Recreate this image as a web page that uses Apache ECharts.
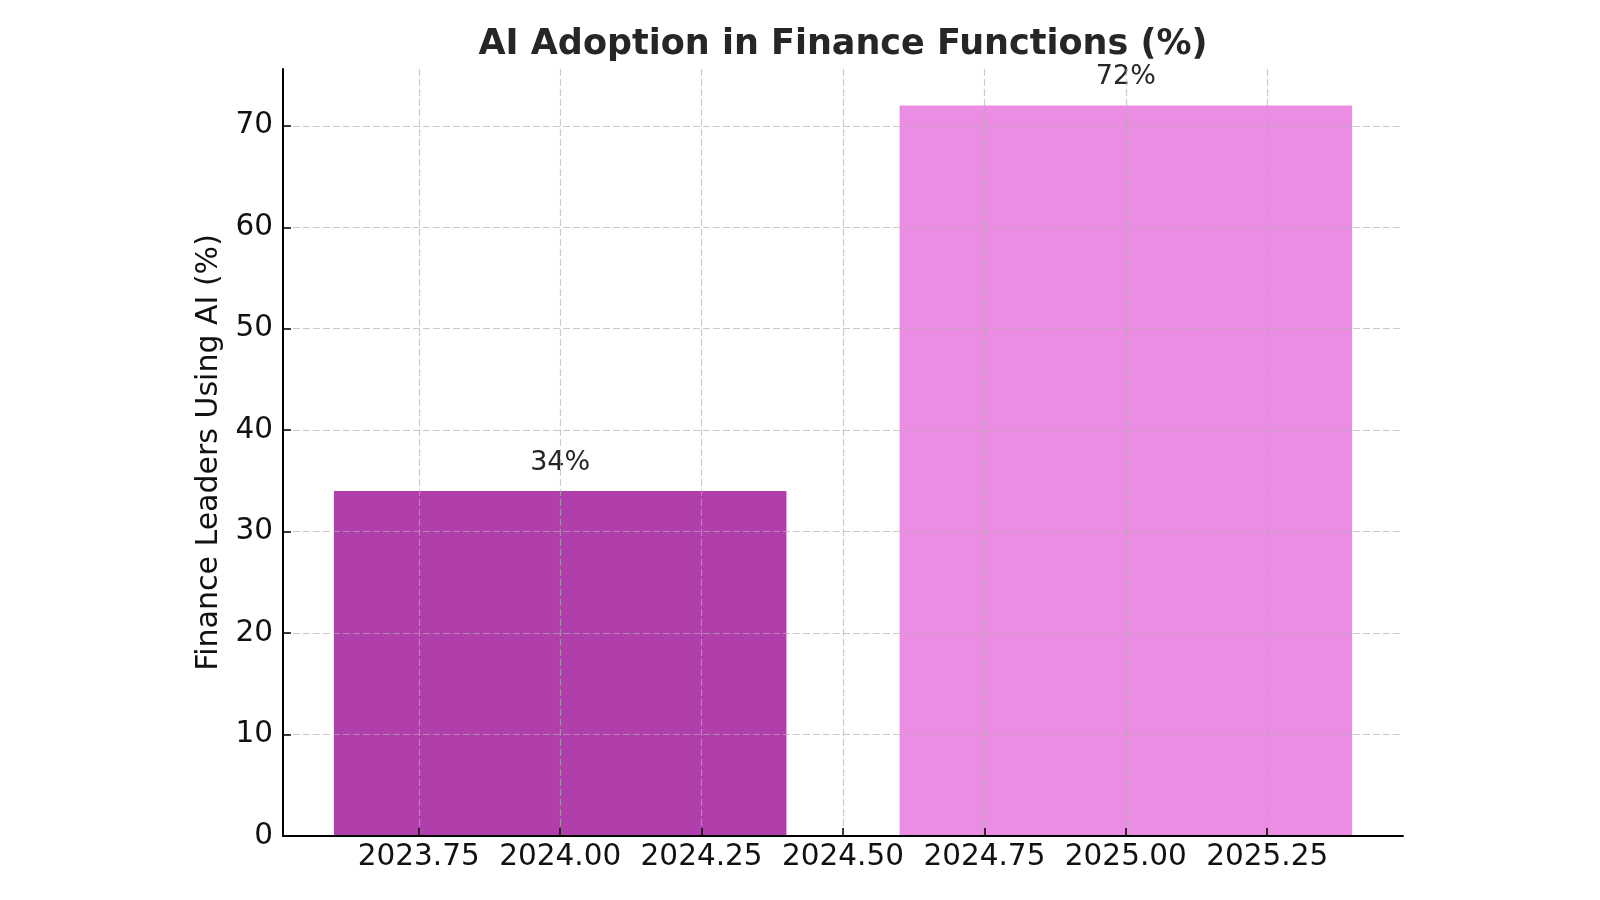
<!DOCTYPE html>
<html>
<head>
<meta charset="utf-8">
<title>AI Adoption in Finance Functions</title>
<script src="https://cdn.jsdelivr.net/npm/echarts@6/dist/echarts.min.js"></script>
<style>
  html, body { margin: 0; padding: 0; background: #fff; }
  #chart { width: 1600px; height: 900px; }
</style>
</head>
<body>
<div id="chart"></div>
<script>
// data
const years = [2024, 2025];
const adoption = [34, 72];
const barColors = ['#b03fac', '#ea8de3'];
const xTicks = [2023.75, 2024.0, 2024.25, 2024.5, 2024.75, 2025.0, 2025.25];
const yTicks = [0, 10, 20, 30, 40, 50, 60, 70];

const BAR_W = 0.8; // bar width in x units (matplotlib default)
const FONT = 'DejaVu Sans';

const chart = echarts.init(document.getElementById('chart'));

const gridLine = { show: true, lineStyle: { color: 'rgba(175,175,175,0.65)', type: [7, 3], width: 1.2 } };

chart.setOption({
  animation: false,
  title: {
    text: 'AI Adoption in Finance Functions (%)',
    left: 838, top: 22, textAlign: 'center',
    textStyle: { fontFamily: FONT, fontSize: 35, fontWeight: 'bold', color: '#262626' }
  },
  grid: { left: 283, right: 197, top: 69, bottom: 64, containLabel: false },
  xAxis: {
    type: 'value',
    min: years[0] - BAR_W / 2 - 0.09,
    max: years[1] + BAR_W / 2 + 0.09,
    z: 5,
    axisLine: { lineStyle: { color: '#000', width: 2 } },
    axisTick: { show: true, inside: true, length: 8, customValues: xTicks, lineStyle: { color: '#000', width: 1.5 } },
    axisLabel: {
      customValues: xTicks, margin: 6,
      formatter: v => v.toFixed(2),
      fontFamily: FONT, fontSize: 29.5, color: '#111'
    },
    splitLine: gridLine
  },
  yAxis: {
    type: 'value',
    min: 0, max: 72 * 1.05,
    z: 5,
    name: 'Finance Leaders Using AI (%)',
    nameLocation: 'middle', nameRotate: 90, nameGap: 58,
    nameTextStyle: { fontFamily: FONT, fontSize: 30, color: '#111' },
    axisLine: { show: true, lineStyle: { color: '#000', width: 2 } },
    axisTick: { show: true, inside: true, length: 8, customValues: yTicks, lineStyle: { color: '#000', width: 1.5 } },
    axisLabel: { customValues: yTicks, margin: 10, fontFamily: FONT, fontSize: 29.5, color: '#111' },
    splitLine: gridLine
  },
  series: [{
    type: 'custom',
    z: 1,
    data: years.map((y, i) => [y, adoption[i]]),
    encode: { x: 0, y: 1 },
    renderItem: (params, api) => {
      const x = api.value(0), v = api.value(1);
      const tl = api.coord([x - BAR_W / 2, v]);
      const br = api.coord([x + BAR_W / 2, 0]);
      return {
        type: 'rect',
        shape: { x: tl[0], y: tl[1], width: br[0] - tl[0], height: br[1] - tl[1] },
        style: { fill: barColors[params.dataIndex] },
        textContent: {
          style: { text: v + '%', fontFamily: FONT, fontSize: 27, fill: '#262626' }
        },
        textConfig: { position: 'top', distance: 15 }
      };
    }
  }]
});
</script>
</body>
</html>
